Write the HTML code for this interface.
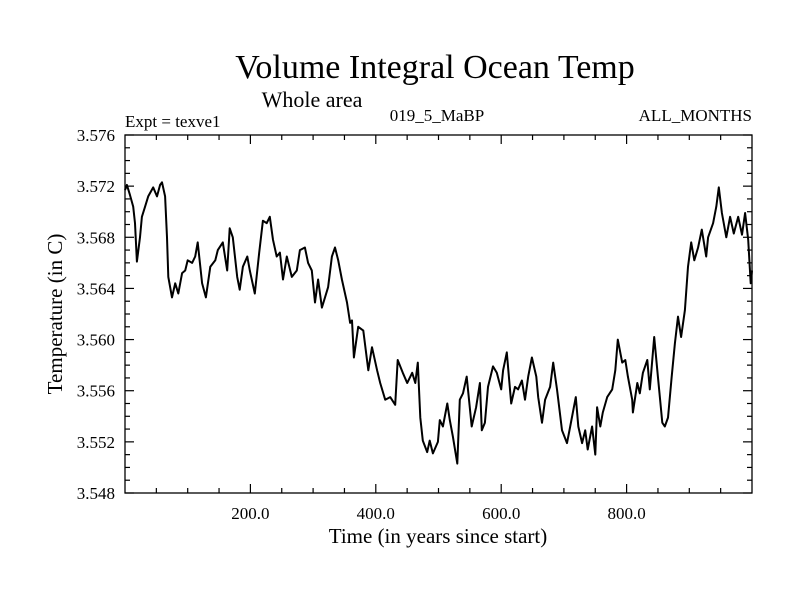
<!DOCTYPE html>
<html><head><meta charset="utf-8"><style>
body{margin:0;background:#fff}
svg text{font-family:"Liberation Serif",serif;fill:#000}
</style></head><body>
<svg id="chart" width="800" height="600" viewBox="0 0 800 600">
<text x="435" y="78" font-size="34" text-anchor="middle">Volume Integral Ocean Temp</text>
<text x="312" y="107" font-size="22" text-anchor="middle">Whole area</text>
<text x="125" y="127" font-size="17">Expt = texve1</text>
<text x="437" y="121" font-size="17" text-anchor="middle">019_5_MaBP</text>
<text x="752" y="121" font-size="17" text-anchor="end">ALL_MONTHS</text>
<text x="438" y="543" font-size="21" text-anchor="middle">Time (in years since start)</text>
<text transform="translate(62,314) rotate(-90)" font-size="21" text-anchor="middle">Temperature (in C)</text>
<g id="axes"></g>
<g id="series"></g>
<rect x="125" y="135" width="627" height="358" fill="none" stroke="#000" stroke-width="1.3"/>
</svg>
<script>
const years=[0,3,8,13,16,19,24,27,32,37,45,51,56,59,64,67,69,75,80,85,91,96,100,107,112,116,123,129,136,144,148,156,163,167,172,179,183,188,195,199,207,214,220,226,231,236,242,247,252,258,266,274,279,287,292,298,303,308,314,319,324,330,335,340,346,354,359,362,365,372,380,388,394,402,407,415,423,431,435,443,450,458,463,467,471,475,482,486,491,499,502,507,514,518,523,530,534,539,545,553,560,566,569,574,579,587,593,600,603,609,616,622,627,633,638,643,649,656,659,665,670,678,683,689,697,705,710,719,723,729,734,738,745,750,753,758,762,769,777,782,786,793,798,802,809,810,817,821,826,833,837,844,850,857,861,866,872,877,882,887,893,898,903,908,914,920,927,930,938,943,947,952,959,965,971,978,984,989,994,998,1000];
const temps=[3.5717,3.5721,3.5713,3.5704,3.5691,3.5661,3.5680,3.5696,3.5704,3.5712,3.5719,3.5712,3.5721,3.5723,3.5712,3.5680,3.5649,3.5633,3.5644,3.5636,3.5652,3.5654,3.5662,3.5660,3.5665,3.5676,3.5644,3.5633,3.5657,3.5662,3.5670,3.5676,3.5654,3.5687,3.5680,3.5649,3.5639,3.5657,3.5665,3.5654,3.5636,3.5668,3.5693,3.5691,3.5696,3.5678,3.5665,3.5668,3.5647,3.5665,3.5649,3.5654,3.5670,3.5672,3.5660,3.5654,3.5629,3.5647,3.5625,3.5633,3.5641,3.5665,3.5672,3.5662,3.5647,3.5629,3.5613,3.5615,3.5586,3.5610,3.5607,3.5576,3.5594,3.5576,3.5566,3.5553,3.5555,3.5549,3.5584,3.5574,3.5566,3.5574,3.5566,3.5582,3.5539,3.5521,3.5512,3.5521,3.5511,3.5520,3.5537,3.5532,3.5550,3.5537,3.5524,3.5503,3.5553,3.5558,3.5571,3.5532,3.5547,3.5566,3.5529,3.5535,3.5563,3.5579,3.5574,3.5561,3.5576,3.5590,3.5550,3.5563,3.5561,3.5568,3.5553,3.5571,3.5586,3.5571,3.5555,3.5535,3.5553,3.5563,3.5582,3.5561,3.5529,3.5519,3.5532,3.5555,3.5532,3.5519,3.5529,3.5514,3.5532,3.5510,3.5547,3.5532,3.5543,3.5555,3.5561,3.5576,3.5600,3.5582,3.5584,3.5571,3.5553,3.5543,3.5566,3.5558,3.5574,3.5584,3.5561,3.5602,3.5571,3.5535,3.5532,3.5539,3.5571,3.5597,3.5618,3.5602,3.5623,3.5657,3.5676,3.5662,3.5672,3.5686,3.5665,3.5680,3.5691,3.5704,3.5719,3.5699,3.5680,3.5696,3.5683,3.5696,3.5682,3.5699,3.5678,3.5644,3.5654];
const xTickVals=[200,400,600,800];
const xTickLabels=["200.0","400.0","600.0","800.0"];
const yTickVals=[3.548,3.552,3.556,3.560,3.564,3.568,3.572,3.576];
const yTickLabels=["3.548","3.552","3.556","3.560","3.564","3.568","3.572","3.576"];
const X0=125,X1=752,Y0=493,Y1=135,XMIN=0,XMAX=1000,YMIN=3.548,YMAX=3.576;
function xs(v){return X0+(v-XMIN)/(XMAX-XMIN)*(X1-X0);}
function ys(v){return Y0-(v-YMIN)/(YMAX-YMIN)*(Y0-Y1);}
const NS="http://www.w3.org/2000/svg";
const axes=document.getElementById('axes');
function ln(x1,y1,x2,y2,name){const l=document.createElementNS(NS,'line');l.setAttribute('x1',x1);l.setAttribute('y1',y1);l.setAttribute('x2',x2);l.setAttribute('y2',y2);l.setAttribute('stroke','#000');l.setAttribute('stroke-width','1.2');


axes.appendChild(l);}
function tx(x,y,s,anchor,name){const t=document.createElementNS(NS,'text');t.setAttribute('x',x);t.setAttribute('y',y);t.setAttribute('font-size','17');t.setAttribute('text-anchor',anchor);t.textContent=s;


axes.appendChild(t);}
for(let v=50;v<XMAX;v+=50){const x=xs(v);const major=v%200===0;const L=major?9:5;ln(x,Y0,x,Y0-L,'x-tick');ln(x,Y1,x,Y1+L,'x-tick-top');}
xTickVals.forEach((v,i)=>tx(xs(v),519,xTickLabels[i],'middle','x-tick-label'));
for(let k=0;k<=28;k++){const v=YMIN+k*0.001;const y=ys(v);const L=k%4===0?9:5;ln(X0,y,X0+L,y,'y-tick');ln(X1,y,X1-L,y,'y-tick-right');}
yTickVals.forEach((v,i)=>tx(115,ys(v)+6,yTickLabels[i],'end','y-tick-label'));
const p=document.createElementNS(NS,'path');
p.setAttribute('d',years.map((y,i)=>(i?'L':'M')+xs(y).toFixed(1)+','+ys(temps[i]).toFixed(1)).join(''));
p.setAttribute('fill','none');p.setAttribute('stroke','#000');p.setAttribute('stroke-width','2');p.setAttribute('stroke-linejoin','round');


document.getElementById('series').appendChild(p);
</script>
</body></html>
